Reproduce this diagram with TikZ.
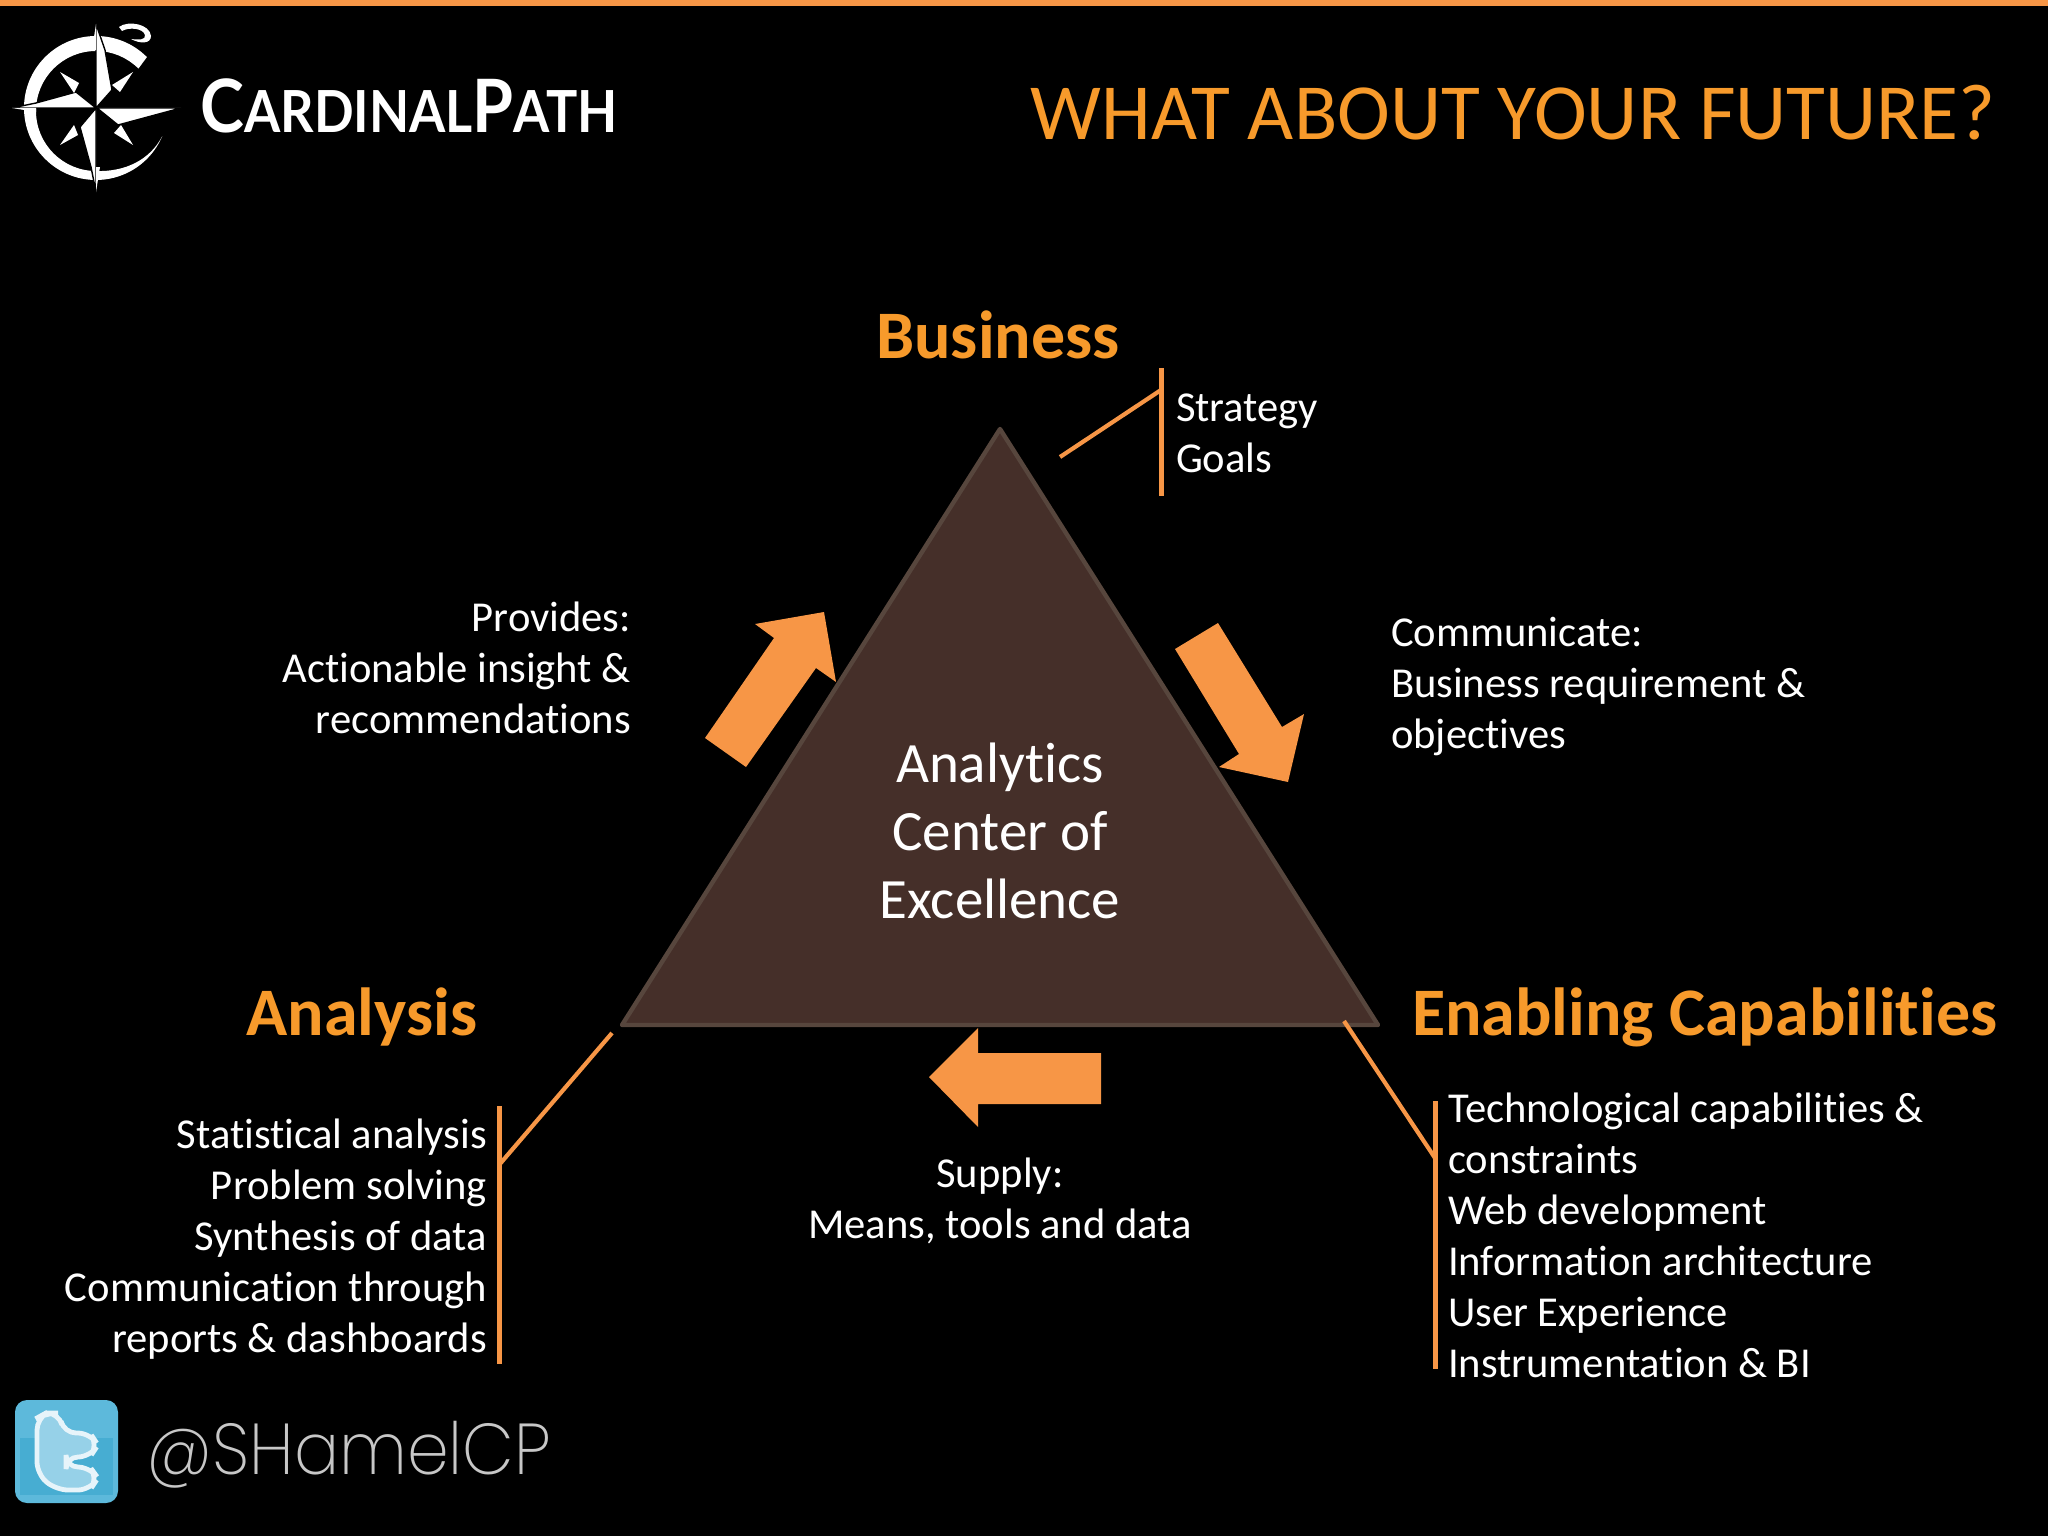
\documentclass[tikz,border=0pt]{standalone}
\usepackage{fontspec}
\setmainfont[Ligatures={NoCommon}]{Carlito}
\newfontfamily\logofont{Lato}
\newfontfamily\handlefont{Poppins ExtraLight}
\usetikzlibrary{calc}
\definecolor{barorange}{HTML}{F79646}
\definecolor{headorange}{HTML}{F79A2B}
\definecolor{trifill}{HTML}{452F29}
\definecolor{triedge}{HTML}{57463D}
\definecolor{twblue}{HTML}{5DB9DB}
\definecolor{twdark}{HTML}{3FA9CF}
\newcommand{\lftlines}[1]{\begin{tabular}[t]{@{}l@{}}#1\end{tabular}}
\newcommand{\rgtlines}[1]{\begin{tabular}[t]{@{}r@{}}#1\end{tabular}}
\newcommand{\ctrlines}[1]{\begin{tabular}[t]{@{}c@{}}#1\end{tabular}}
\tikzset{
  x=0.5pt,y=-0.5pt,
  base text/.style={inner sep=0pt,outer sep=0pt,text=white,font=\fontsize{21.3}{25.5}\selectfont},
  centre text/.style={inner sep=0pt,outer sep=0pt,text=white,font=\fontsize{28.5}{34.1}\selectfont},
  heading/.style={inner sep=0pt,outer sep=0pt,text=headorange,font=\fontsize{34}{40}\selectfont\bfseries},
  leader/.style={draw=barorange,line width=2.1pt},
  bracket/.style={draw=barorange,line width=2.5pt},
  block arrow/.style={fill=barorange,draw=none},
  star part/.style={fill=white,draw=black,line width=0.7pt,line join=miter},
}
\begin{document}
\begin{tikzpicture}
\useasboundingbox (0,0) rectangle (2048,1536);
\fill[black] (0,0) rectangle (2048,1536);
\fill[barorange] (0,0) rectangle (2048,6);

% logo
\fill[white] ($(96,108)+(-45:72)$) arc[start angle=-45,end angle=-337,radius=72]
  .. controls (150,160) and (125,172) .. (96,171)
  arc[start angle=-270,end angle=-45,radius=60] -- cycle;
\fill[white] (119,27) .. controls (128,20) and (150,24) .. (151,36)
  .. controls (151,44) and (140,44) .. (131,39)
  .. controls (139,40) and (146,40) .. (145,35)
  .. controls (143,28) and (129,27) .. (122,31) -- cycle;
\path[star part] (96,24) -- (96,108) -- (112,90) -- (105,50) -- cycle;
\path[star part] (96,192) -- (96,108) -- (80,127) -- (91,167) -- cycle;
\path[star part] (12,108) -- (96,108) -- (76,92) -- (36,103) -- cycle;
\path[star part] (181,108) -- (97,108) -- (118,125) -- cycle;
\fill[white] (96,24) -- (92,50) -- (96,50) -- cycle;
\fill[white] (96,192) -- (100,167) -- (96,167) -- cycle;
\fill[white] (12,108) -- (36,112) -- (36,108) -- cycle;
\fill[white] (60,72) -- (79,83) -- (74,93) -- cycle;
\fill[white] (133,72) -- (112,85) -- (120,92) -- cycle;
\fill[white] (60,145) -- (78,135) -- (74,125) -- cycle;
\fill[white] (133,145) -- (114,133) -- (121,125) -- cycle;
\node[inner sep=0pt,anchor=base west,text=white] (logotext) at (200,133)
  {\scalebox{0.9}[1]{\logofont\bfseries\fontsize{36.8}{40}\selectfont C\fontsize{29}{40}\selectfont ARDINAL\fontsize{36.8}{40}\selectfont P\fontsize{29}{40}\selectfont ATH}};

% title
\node[inner sep=0pt,anchor=base east,text=headorange,font=\fontsize{39.8}{48}\selectfont] (title) at (1996,140) {WHAT ABOUT YOUR FUTURE?};

% triangle
\coordinate (apex) at (1000,429);
\coordinate (baseL) at (622,1025);
\coordinate (baseR) at (1378,1025);
\draw[fill=trifill,draw=triedge,line width=2.2pt,line join=round] (apex) -- (baseR) -- (baseL) -- cycle;
\node[centre text,anchor=base] (centre) at (1000,782) {\ctrlines{Analytics\\Center of\\Excellence}};

% headings
\node[heading,anchor=base] (business) at (998,358) {Business};
\node[heading,anchor=base east] (analysis) at (477,1035) {Analysis};
\node[heading,anchor=base west] (enabling) at (1412,1035) {Enabling Capabilities};

% block arrows
\path[block arrow] (705,738) -- (774,638) -- (755,624) -- (824,612) -- (836,682) -- (816,668) -- (746,767) -- cycle;
\path[block arrow] (1218,623) -- (1282,727) -- (1304,714) -- (1288,782) -- (1219,767) -- (1239,754) -- (1175,649) -- cycle;
\path[block arrow] (1101,1053) -- (978,1053) -- (978,1028) -- (929,1077) -- (978,1127) -- (978,1104) -- (1101,1104) -- cycle;

% business bracket
\coordinate (bizTop) at (1161,368);
\coordinate (bizBot) at (1161,496);
\coordinate (bizOut) at (1060,457);
\coordinate (bizIn) at (1161,390);
\draw[bracket] (bizTop) -- (bizBot);
\draw[leader] (bizOut) -- (bizIn);
\node[base text,anchor=base west] (bizlist) at (1176,421) {\lftlines{Strategy\\Goals}};

% analysis bracket
\coordinate (anaTop) at (499,1106);
\coordinate (anaBot) at (499,1364);
\coordinate (anaOut) at (612,1033);
\coordinate (anaIn) at (499,1165);
\draw[bracket] (anaTop) -- (anaBot);
\draw[leader] (anaOut) -- (anaIn);
\node[base text,anchor=base east] (analist) at (487,1148) {\rgtlines{Statistical analysis\\Problem solving\\Synthesis of data\\Communication through\\reports \& dashboards}};

% enabling bracket
\coordinate (enaTop) at (1435,1101);
\coordinate (enaBot) at (1435,1369);
\coordinate (enaOut) at (1344,1021);
\coordinate (enaIn) at (1435,1158);
\draw[bracket] (enaTop) -- (enaBot);
\draw[leader] (enaOut) -- (enaIn);
\node[base text,anchor=base west] (enalist) at (1448,1122) {\lftlines{Technological capabilities \&\\constraints\\Web development\\Information architecture\\User Experience\\Instrumentation \& BI}};

% arrow captions
\node[base text,anchor=base east] (provides) at (631,631) {\rgtlines{Provides:\\Actionable insight \&\\recommendations}};
\node[base text,anchor=base west] (communicate) at (1391,646) {\lftlines{Communicate:\\Business requirement \&\\objectives}};
\node[base text,anchor=base] (supply) at (1000,1187) {\ctrlines{Supply:\\Means, tools and data}};

% twitter
\fill[twblue,rounded corners=6pt] (15,1400) rectangle (118,1503);
\fill[twdark,opacity=0.7] (20,1438) rectangle (113,1495);
\draw[fill=white!35!twblue,draw=white!85!twblue,line width=2.4pt,rounded corners=6pt]
  (37,1418) -- (46,1413) -- (59,1413) -- (64,1433) -- (90,1433) -- (98,1445) -- (90,1457) -- (66,1457) -- (66,1467) -- (90,1467) -- (98,1478) -- (90,1490) -- (56,1490) -- (37,1474) -- cycle;
\node[inner sep=0pt,anchor=base west,text=white!78!black] (handle) at (146,1474)
  {\scalebox{0.93}[1]{\handlefont\fontsize{36}{40}\selectfont @SHamelCP}};
\end{tikzpicture}
\end{document}
